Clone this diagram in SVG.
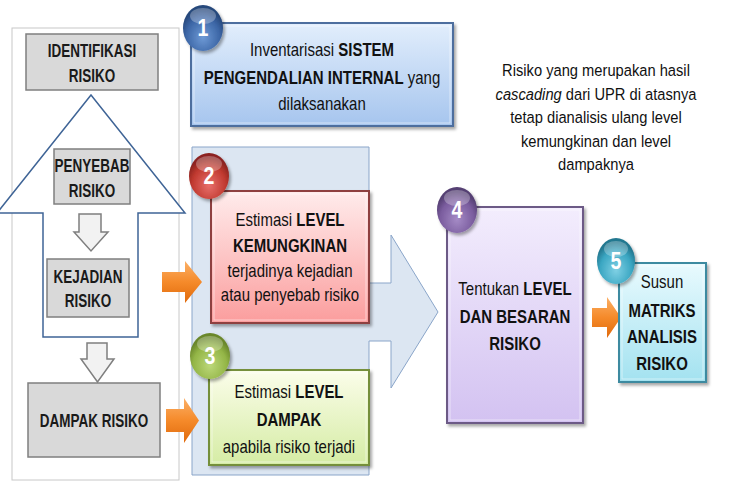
<svg xmlns="http://www.w3.org/2000/svg" width="738" height="490" viewBox="0 0 738 490">
<defs>
<style>
.t{font-family:"Liberation Sans",Arial,sans-serif;font-size:17.5px;fill:#111;text-anchor:middle}
.b{font-weight:bold}
.lb{font-family:"Liberation Sans",Arial,sans-serif;font-size:17.5px;font-weight:bold;fill:#1a1a1a;text-anchor:middle}
.nt{font-family:"Liberation Sans",Arial,sans-serif;font-size:17px;fill:#111;text-anchor:middle}
.num{font-family:"Liberation Sans",Arial,sans-serif;font-size:23px;font-weight:bold;fill:#fff;text-anchor:middle}
.gray{fill:#d9d9d9;stroke:#7f7f7f;stroke-width:1.5}
.hollow{fill:#f2f2f2;stroke:#7f7f7f;stroke-width:1.5}
.orange{fill:url(#gOr)}
.gloss{fill:#fff;opacity:0.28}
</style>
<filter id="sh" x="-20%" y="-20%" width="140%" height="140%">
<feDropShadow dx="2" dy="2.5" stdDeviation="1.5" flood-color="#000" flood-opacity="0.35"/>
</filter>
<linearGradient id="gOr" x1="0" y1="0" x2="0" y2="1"><stop offset="0" stop-color="#fbb067"/><stop offset="0.5" stop-color="#f58a2a"/><stop offset="1" stop-color="#e06a0c"/></linearGradient>
<linearGradient id="gBlue" x1="0" y1="0" x2="0" y2="1"><stop offset="0" stop-color="#e2eefc"/><stop offset="1" stop-color="#a6c5ee"/></linearGradient>
<linearGradient id="gRed" x1="0" y1="0" x2="0" y2="1"><stop offset="0" stop-color="#ffecec"/><stop offset="1" stop-color="#fb9d9d"/></linearGradient>
<linearGradient id="gGreen" x1="0" y1="0" x2="0" y2="1"><stop offset="0" stop-color="#fbfdea"/><stop offset="1" stop-color="#d5eca4"/></linearGradient>
<linearGradient id="gPurple" x1="0" y1="0" x2="0" y2="1"><stop offset="0" stop-color="#f3edfd"/><stop offset="1" stop-color="#d3c2f1"/></linearGradient>
<linearGradient id="gCyan" x1="0" y1="0" x2="0" y2="1"><stop offset="0" stop-color="#e9fafe"/><stop offset="1" stop-color="#a3e2f0"/></linearGradient>
<radialGradient id="cBlue" cx="0.5" cy="0.7" r="0.6"><stop offset="0" stop-color="#6e9ad6"/><stop offset="0.7" stop-color="#3c66a6"/><stop offset="1" stop-color="#27487c"/></radialGradient>
<radialGradient id="cRed" cx="0.5" cy="0.7" r="0.6"><stop offset="0" stop-color="#e8706c"/><stop offset="0.7" stop-color="#c0392f"/><stop offset="1" stop-color="#8c2420"/></radialGradient>
<radialGradient id="cGreen" cx="0.5" cy="0.7" r="0.6"><stop offset="0" stop-color="#bcd87a"/><stop offset="0.7" stop-color="#93b546"/><stop offset="1" stop-color="#6a872c"/></radialGradient>
<radialGradient id="cPurple" cx="0.5" cy="0.7" r="0.6"><stop offset="0" stop-color="#a58bc6"/><stop offset="0.7" stop-color="#7a5c9e"/><stop offset="1" stop-color="#553f73"/></radialGradient>
<radialGradient id="cCyan" cx="0.5" cy="0.7" r="0.6"><stop offset="0" stop-color="#7fd0e4"/><stop offset="0.7" stop-color="#3aa6c2"/><stop offset="1" stop-color="#247890"/></radialGradient>
</defs>
<rect width="738" height="490" fill="#fff"/>

<g id="identifikasi-frame">
<rect x="12" y="28" width="167" height="452" fill="none" stroke="#c8c8c8" stroke-width="1"/>
<path d="M91,95 L185,213 H138 V337 H43 V213 H-3 Z" fill="#fff" stroke="#3f6496" stroke-width="1.5"/>
</g>

<g id="panel">
<path d="M192,147 H369 V283 H391 V235 L438,312 L391,388 V341 H369 V475 H192 Z" fill="#dce6f2" stroke="#8aa5c9" stroke-width="1"/>
</g>

<g id="connectors">
<path class="hollow" d="M79,214 H101 V232 H108 L91,251 L74,232 H79 Z"/>
<path class="hollow" d="M87,343 H107 V359 H114 L97.5,382 L81,359 H87 Z"/>
<polygon class="orange" points="162,272 185,272 185,261 202,282 185,303 185,292 162,292"/>
<polygon class="orange" points="166,409 184,409 184,398 199,420.5 184,443 184,432 166,432"/>
<polygon class="orange" points="592,308 607,308 607,297 621,317.5 607,338 607,327 592,327"/>
</g>

<g id="n-identifikasi">
<rect class="gray" x="26" y="34" width="132" height="56"/>
<text class="lb" transform="translate(92 0) scale(0.77 1)" x="0" y="57">IDENTIFIKASI</text>
<text class="lb" transform="translate(92 0) scale(0.77 1)" x="0" y="82">RISIKO</text>
</g>
<g id="n-penyebab">
<rect class="gray" x="54" y="149" width="76" height="55"/>
<text class="lb" transform="translate(92 0) scale(0.77 1)" x="0" y="172">PENYEBAB</text>
<text class="lb" transform="translate(92 0) scale(0.77 1)" x="0" y="197">RISIKO</text>
</g>
<g id="n-kejadian">
<rect class="gray" x="47" y="259" width="82" height="58"/>
<text class="lb" transform="translate(88 0) scale(0.77 1)" x="0" y="283">KEJADIAN</text>
<text class="lb" transform="translate(88 0) scale(0.77 1)" x="0" y="307">RISIKO</text>
</g>
<g id="n-dampak">
<rect class="gray" x="28" y="383" width="132" height="74"/>
<text class="lb" transform="translate(94 0) scale(0.77 1)" x="0" y="427">DAMPAK RISIKO</text>
</g>

<g id="n1">
<rect x="191" y="23" width="262" height="103" fill="url(#gBlue)" stroke="#4d6e9e" stroke-width="2" filter="url(#sh)"/>
<rect x="194" y="26" width="256" height="97" fill="none" stroke="#fff" stroke-opacity="0.5" stroke-width="1"/>
<text class="t" transform="translate(322 0) scale(0.857 1)" x="0" y="56">Inventarisasi <tspan class="b">SISTEM</tspan></text>
<text class="t" transform="translate(322 0) scale(0.857 1)" x="0" y="84"><tspan class="b">PENGENDALIAN INTERNAL</tspan> yang</text>
<text class="t" transform="translate(322 0) scale(0.857 1)" x="0" y="110">dilaksanakan</text>
<ellipse cx="203" cy="28" rx="20" ry="23" fill="url(#cBlue)" filter="url(#sh)"/>
<ellipse class="gloss" cx="203" cy="16" rx="13" ry="8"/>
<text class="num" transform="translate(203 0) scale(0.85 1)" x="0" y="36">1</text>
</g>

<g id="n2">
<rect x="211" y="191" width="158" height="132" fill="url(#gRed)" stroke="#8e4040" stroke-width="2" filter="url(#sh)"/>
<rect x="214" y="194" width="152" height="126" fill="none" stroke="#fff" stroke-opacity="0.5" stroke-width="1"/>
<text class="t" transform="translate(290 0) scale(0.857 1)" x="0" y="226">Estimasi <tspan class="b">LEVEL</tspan></text>
<text class="t b" transform="translate(290 0) scale(0.857 1)" x="0" y="252">KEMUNGKINAN</text>
<text class="t" transform="translate(290 0) scale(0.857 1)" x="0" y="277">terjadinya kejadian</text>
<text class="t" transform="translate(290 0) scale(0.857 1)" x="0" y="301">atau penyebab risiko</text>
<ellipse cx="209" cy="176" rx="20" ry="23" fill="url(#cRed)" filter="url(#sh)"/>
<ellipse class="gloss" cx="209" cy="164" rx="13" ry="8"/>
<text class="num" transform="translate(209 0) scale(0.85 1)" x="0" y="184">2</text>
</g>

<g id="n3">
<rect x="209" y="370" width="160" height="95" fill="url(#gGreen)" stroke="#748f3a" stroke-width="2" filter="url(#sh)"/>
<rect x="212" y="373" width="154" height="89" fill="none" stroke="#fff" stroke-opacity="0.5" stroke-width="1"/>
<text class="t" transform="translate(289 0) scale(0.857 1)" x="0" y="398">Estimasi <tspan class="b">LEVEL</tspan></text>
<text class="t b" transform="translate(289 0) scale(0.857 1)" x="0" y="426">DAMPAK</text>
<text class="t" transform="translate(289 0) scale(0.857 1)" x="0" y="453">apabila risiko terjadi</text>
<ellipse cx="210" cy="356" rx="20" ry="23" fill="url(#cGreen)" filter="url(#sh)"/>
<ellipse class="gloss" cx="210" cy="344" rx="13" ry="8"/>
<text class="num" transform="translate(210 0) scale(0.85 1)" x="0" y="364">3</text>
</g>

<g id="n4">
<rect x="447" y="207" width="136" height="216" fill="url(#gPurple)" stroke="#6c5a86" stroke-width="2" filter="url(#sh)"/>
<rect x="450" y="210" width="130" height="210" fill="none" stroke="#fff" stroke-opacity="0.5" stroke-width="1"/>
<text class="t" transform="translate(515 0) scale(0.857 1)" x="0" y="295">Tentukan <tspan class="b">LEVEL</tspan></text>
<text class="t b" transform="translate(515 0) scale(0.857 1)" x="0" y="323">DAN BESARAN</text>
<text class="t b" transform="translate(515 0) scale(0.857 1)" x="0" y="350">RISIKO</text>
<ellipse cx="457" cy="210" rx="20" ry="23" fill="url(#cPurple)" filter="url(#sh)"/>
<ellipse class="gloss" cx="457" cy="198" rx="13" ry="8"/>
<text class="num" transform="translate(457 0) scale(0.85 1)" x="0" y="218">4</text>
</g>

<g id="n5">
<rect x="619" y="263" width="87" height="119" fill="url(#gCyan)" stroke="#3d8aa0" stroke-width="2" filter="url(#sh)"/>
<rect x="622" y="266" width="81" height="113" fill="none" stroke="#fff" stroke-opacity="0.5" stroke-width="1"/>
<text class="t" transform="translate(662 0) scale(0.857 1)" x="0" y="288">Susun</text>
<text class="t b" transform="translate(662 0) scale(0.857 1)" x="0" y="317">MATRIKS</text>
<text class="t b" transform="translate(662 0) scale(0.857 1)" x="0" y="343">ANALISIS</text>
<text class="t b" transform="translate(662 0) scale(0.857 1)" x="0" y="370">RISIKO</text>
<ellipse cx="616" cy="261" rx="19" ry="23" fill="url(#cCyan)" filter="url(#sh)"/>
<ellipse class="gloss" cx="616" cy="249" rx="12" ry="8"/>
<text class="num" transform="translate(616 0) scale(0.85 1)" x="0" y="269">5</text>
</g>

<g id="note">
<text class="nt" transform="translate(596 0) scale(0.865 1)" x="0" y="76">Risiko yang merupakan hasil</text>
<text class="nt" transform="translate(596 0) scale(0.865 1)" x="0" y="100"><tspan font-style="italic">cascading</tspan> dari UPR di atasnya</text>
<text class="nt" transform="translate(596 0) scale(0.865 1)" x="0" y="123">tetap dianalisis  ulang level</text>
<text class="nt" transform="translate(596 0) scale(0.865 1)" x="0" y="147">kemungkinan dan level</text>
<text class="nt" transform="translate(596 0) scale(0.865 1)" x="0" y="170">dampaknya</text>
</g>
</svg>
